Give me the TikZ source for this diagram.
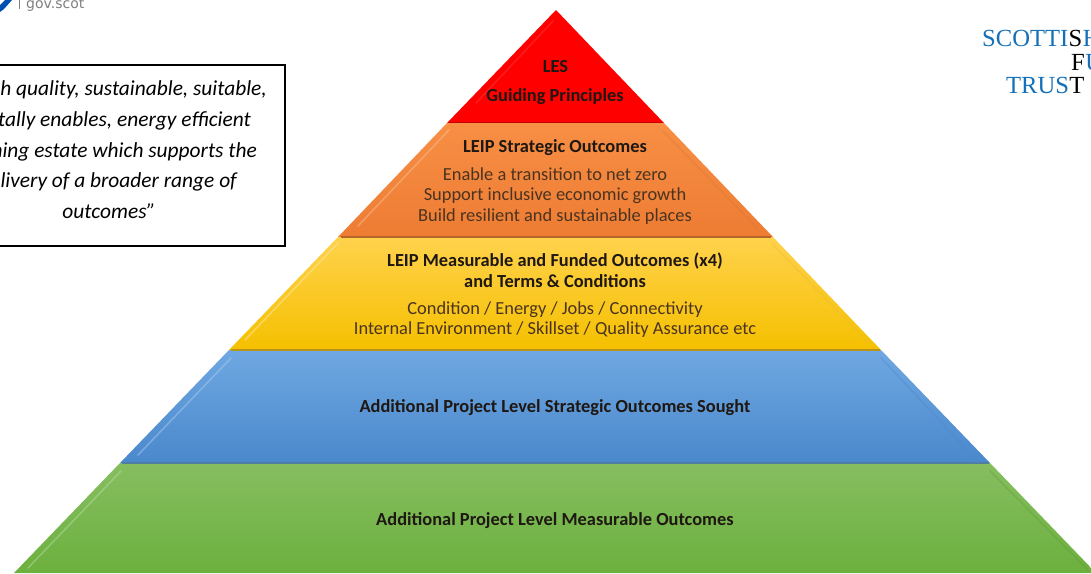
\documentclass[tikz,border=0pt]{standalone}
\usepackage{fontspec}
\setmainfont{Carlito}
\newfontfamily\logofont{Liberation Serif}
\newfontfamily\govfont{DejaVu Sans}
\definecolor{inkdark}{HTML}{1E1712}
\definecolor{inkbody}{HTML}{4A3320}
\definecolor{logoblue}{HTML}{1470B8}
\definecolor{redA}{HTML}{FF0000}
\definecolor{redD}{HTML}{C00000}
\definecolor{orA}{HTML}{F78F45}
\definecolor{orB}{HTML}{EE7C33}
\definecolor{orD}{HTML}{B5652A}
\definecolor{yeA}{HTML}{FFD24C}
\definecolor{yeB}{HTML}{FFC808}
\definecolor{yeC}{HTML}{F5C000}
\definecolor{yeD}{HTML}{B8941A}
\definecolor{blA}{HTML}{6FA8E2}
\definecolor{blB}{HTML}{569FE2}
\definecolor{blC}{HTML}{4A88CC}
\definecolor{blD}{HTML}{4F7FA0}
\definecolor{grA}{HTML}{86BE60}
\definecolor{grB}{HTML}{75B94A}
\definecolor{grC}{HTML}{6CB03E}
\tikzset{
  gloss/.style={line width=1.6pt,line cap=round,opacity=0.45},
  seam/.style={line width=1.6pt},
  head/.style={font=\bfseries\fontsize{18.4}{22}\selectfont,text=inkdark,anchor=base,inner sep=0pt},
  body/.style={font=\fontsize{18.4}{22}\selectfont,text=inkbody,anchor=base,inner sep=0pt},
  quotetext/.style={font=\itshape\fontsize{21.4}{25}\selectfont,text=black,anchor=base east,inner sep=0pt},
  logotext/.style={font=\logofont\fontsize{24.6}{28}\selectfont,inner sep=0pt,anchor=base west},
}
\begin{document}
\begin{tikzpicture}[x=1pt,y=-1pt]
\useasboundingbox (0,0) rectangle (1091,573);
\clip (0,0) rectangle (1091,573);
\fill[white] (0,0) rectangle (1091,573);
% layers
\shade[top color=redA,bottom color=redA] (556,10) -- (664,123) -- (447,123) -- cycle;
\shade[top color=orA,bottom color=orB] (447,123) -- (664,123) -- (773,237) -- (338,237) -- cycle;
\shade[top color=yeA,middle color=yeB,bottom color=yeC] (338,237) -- (773,237) -- (881,350) -- (229,350) -- cycle;
\shade[top color=blA,middle color=blB,bottom color=blC] (229,350) -- (881,350) -- (990,463) -- (120,463) -- cycle;
\shade[top color=grA,middle color=grB,bottom color=grC] (120,463) -- (990,463) -- (1096,573) -- (14,573) -- cycle;
% dark seams
\draw[seam,redD] (449,122.5) -- (662,122.5);
\draw[seam,orD] (341,237) -- (771,237);
\draw[seam,yeD] (231,350) -- (880,350);
\draw[seam,blD] (122,463) -- (989,463);
% glossy edges
\draw[gloss,redA!70!white,opacity=.35] (553,21) -- (476,103);
\draw[gloss,orA!55!white] (449,130) -- (358,226);
\draw[gloss,yeA!45!white] (338,243) -- (245,340);
\draw[gloss,blB!50!white] (231,358) -- (138,455);
\draw[gloss,grB!50!white] (121,471) -- (28,568);
\draw[gloss,orD!60!orA,opacity=.3] (663,131) -- (757,228);
\draw[gloss,yeD!40!yeA,opacity=.3] (773,245) -- (868,342);
\draw[gloss,blC,opacity=.35] (881,358) -- (975,458);
\draw[gloss,grC!85!black,opacity=.3] (990,471) -- (1088,570);
% pyramid texts
\node[head] (les) at (555.5,72) {LES};
\node[head] (guiding) at (555,101) {Guiding Principles};
\node[head] (strat) at (555,152) {LEIP Strategic Outcomes};
\node[body] (enable) at (555,180) {Enable a transition to net zero};
\node[body] (support) at (555,200) {Support inclusive economic growth};
\node[body] (build) at (555,221) {Build resilient and sustainable places};
\node[head] (meas) at (555,266) {LEIP Measurable and Funded Outcomes (x4)};
\node[head] (terms) at (555,287) {and Terms \& Conditions};
\node[body] (cond) at (555,314) {Condition / Energy / Jobs / Connectivity};
\node[body] (intern) at (555,334) {Internal Environment / Skillset / Quality Assurance etc};
\node[head] (addstrat) at (555,412) {Additional Project Level Strategic Outcomes Sought};
\node[head] (addmeas) at (555,525) {Additional Project Level Measurable Outcomes};
% quote box
\draw[black,line width=2pt] (-5,65) rectangle (284.5,245.5);
\node[quotetext] (q1) at (267,95.5) {h quality, sustainable, suitable,};
\node[quotetext] (q2) at (251,126.5) {tally enables, energy efficient};
\node[quotetext] (q3) at (257,157.5) {ning estate which supports the};
\node[quotetext] (q4) at (237,187.5) {livery of a broader range of};
\node[quotetext,anchor=base] (q5) at (109,218.5) {outcomes”};
% gov.scot
\node[font=\govfont\fontsize{14}{16}\selectfont,text=gray,anchor=base west,inner sep=0pt] (gov) at (26,8.5) {gov.scot};
\draw[gray,line width=.8pt] (19,0) -- (19,9);
\fill[blue!55!cyan!70!black] (0,5) -- (5,0) -- (12,0) -- (4,9) -- (0,12) -- cycle;
% logo
\node[logotext,text=logoblue] (s1) at (982,46) {SCOTTI};
\node[logotext,text=black] (s2) at (s1.base east) {S};
\node[logotext,text=logoblue] (s3) at (s2.base east) {H};
\node[logotext,text=black] (f1) at (1071,70) {F};
\node[logotext,text=logoblue] (f2) at (f1.base east) {U};
\node[logotext,text=logoblue] (t1) at (1006,93) {TRUS};
\node[logotext,text=black] (t2) at (t1.base east) {T};
\end{tikzpicture}
\end{document}
